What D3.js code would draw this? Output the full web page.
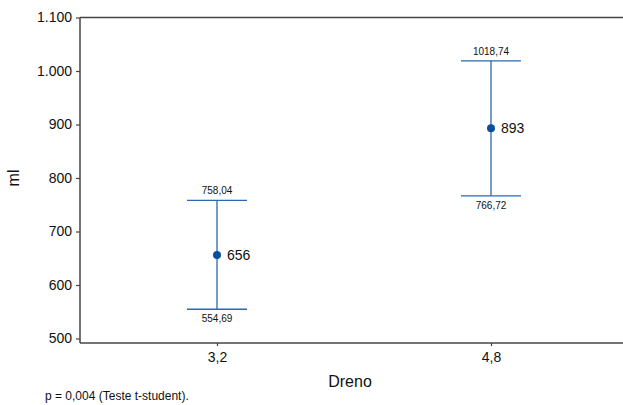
<!DOCTYPE html>
<html><head><meta charset="utf-8">
<script src="https://cdn.jsdelivr.net/npm/d3@7"></script>
<style>body{margin:0;background:#fff}svg{display:block}text{font-family:"Liberation Sans",Arial,sans-serif;fill:#111}</style>
</head><body><svg id="c" width="623" height="405"></svg>
<script>
const categories = ["3,2", "4,8"];
const means = [656, 893];
const lowers = [554.69, 766.72];
const uppers = [758.04, 1018.74];
const lowerLabels = ["554,69", "766,72"];
const upperLabels = ["758,04", "1018,74"];
const yTicks = [500, 600, 700, 800, 900, 1000, 1100];
const yTickLabels = ["500", "600", "700", "800", "900", "1.000", "1.100"];

const svg = d3.select("#c");
const plotLeft = 80, plotTop = 17.5, bottomY = 343, plotRight = 623;
const y = d3.scaleLinear().domain([500, 1100]).range([338.5, plotTop]);
const x = d3.scalePoint().domain(categories).range([80, 628]).padding(0.5);
const blue = "#2b68b0", dot = "#0a4e9e", axc = "#444";

// top line
svg.append("line").attr("x1", plotLeft).attr("x2", plotRight).attr("y1", plotTop).attr("y2", plotTop).attr("stroke", axc).attr("stroke-width", 1.5);
// y axis
const ya = svg.append("g").attr("transform", `translate(${plotLeft},0)`)
  .call(d3.axisLeft(y).tickValues(yTicks).tickFormat((d, i) => yTickLabels[i]).tickSize(4).tickSizeOuter(0).tickPadding(4));
ya.select(".domain").remove();
ya.selectAll(".tick line").attr("stroke", axc).attr("stroke-width", 1.2);
ya.selectAll(".tick text").style("font-size", "14px").attr("fill", "#111");
svg.append("line").attr("x1", plotLeft).attr("x2", plotLeft).attr("y1", plotTop).attr("y2", bottomY).attr("stroke", axc).attr("stroke-width", 1.5);
// x axis
const xa = svg.append("g").attr("transform", `translate(0,${bottomY})`)
  .call(d3.axisBottom(x).tickSize(3).tickSizeOuter(0).tickPadding(6));
xa.select(".domain").remove();
xa.selectAll(".tick line").attr("stroke", axc).attr("stroke-width", 1.2);
xa.selectAll(".tick text").style("font-size", "14px").attr("fill", "#111");
svg.append("line").attr("x1", plotLeft).attr("x2", plotRight).attr("y1", bottomY).attr("y2", bottomY).attr("stroke", axc).attr("stroke-width", 1.5);

// error bars
const capW = 30;
const g = svg.append("g");
categories.forEach((c, i) => {
  const cx = x(c);
  g.append("line").attr("x1", cx).attr("x2", cx).attr("y1", y(uppers[i])).attr("y2", y(lowers[i])).attr("stroke", blue).attr("stroke-width", 1.3);
  [uppers[i], lowers[i]].forEach(v => g.append("line").attr("x1", cx - capW).attr("x2", cx + capW).attr("y1", y(v)).attr("y2", y(v)).attr("stroke", blue).attr("stroke-width", 1.3));
  g.append("circle").attr("cx", cx).attr("cy", y(means[i])).attr("r", 4).attr("fill", dot);
  g.append("text").attr("x", cx + 10).attr("y", y(means[i])).attr("dy", "0.35em").style("font-size", "14px").text(means[i]);
  g.append("text").attr("x", cx).attr("y", y(uppers[i]) - 6).attr("text-anchor", "middle").style("font-size", "10px").text(upperLabels[i]);
  g.append("text").attr("x", cx).attr("y", y(lowers[i]) + 13).attr("text-anchor", "middle").style("font-size", "10px").text(lowerLabels[i]);
});

// titles
svg.append("text").attr("x", 350).attr("y", 387).attr("text-anchor", "middle").style("font-size", "16px").text("Dreno");
svg.append("text").attr("transform", "translate(19,178) rotate(-90)").attr("text-anchor", "middle").style("font-size", "16px").text("ml");
svg.append("text").attr("x", 45).attr("y", 400).style("font-size", "12px").text("p = 0,004 (Teste t-student).");
</script></body></html>
